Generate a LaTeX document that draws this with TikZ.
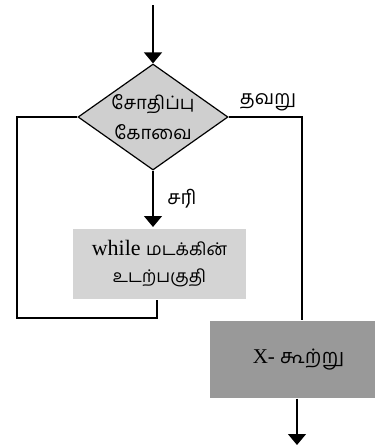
\documentclass[tikz,border=0pt]{standalone}
\usepackage{fontspec}
\setmainfont{Liberation Serif}
\newfontfamily\tamil[Script=Tamil]{Hind Madurai}
\usetikzlibrary{shapes.geometric,arrows.meta,calc}
\begin{document}
\begin{tikzpicture}[x=1pt,y=-1pt,
  line width=1.2pt,
  arr/.style={-{Triangle[width=18pt,length=11pt]}},
  decision/.style={diamond,draw,fill=black!19,aspect=1.415,inner sep=0pt,
    minimum width=150pt,minimum height=106pt},
  dtext/.style={align=center,inner sep=0pt,font=\tamil\fontsize{18.5}{30}\selectfont},
  bodybox/.style={rectangle,fill=black!17,inner sep=0pt,minimum width=173pt,
    minimum height=70pt,align=center,font=\fontsize{22}{27}\selectfont},
  xbox/.style={rectangle,fill=black!40,inner sep=0pt,minimum width=165pt,
    minimum height=77pt},
  lbl/.style={font=\tamil\fontsize{19.5}{20}\selectfont,inner sep=0pt}]
\useasboundingbox (0,0) rectangle (375,445);
\coordinate (start) at (153,5);
\node[decision,label={[dtext]center:சோதிப்பு\\கோவை}] (d) at (153,117) {};
\node[bodybox] (b) at (159.5,264) {while {\tamil\fontsize{17.5}{27}\selectfont மடக்கின்}\\{\tamil\fontsize{17.5}{27}\selectfont உடற்பகுதி}};
\node[xbox,label={[font=\fontsize{21}{22}\selectfont,inner sep=0pt,xshift=6pt]center:X- {\tamil\fontsize{20}{22}\selectfont கூற்று}}] (x) at (292.5,359.5) {};
\coordinate (lx) at (17,318);
\coordinate (rx) at (302,0);
\coordinate (bx) at (157,0);
\coordinate (ox) at (297,0);
\coordinate (end) at (297,445);
\draw[arr] (start) -- (d.north);
\draw[arr] (d.south) -- (153,227);
\draw (d.west) -| (lx) -| (b.south -| bx);
\draw (d.east) -| (x.north -| rx);
\draw[arr] (x.south -| ox) -- (end);
\node[lbl] (f) at (268,102) {தவறு};
\node[lbl] (t) at (182,199) {சரி};
\end{tikzpicture}
\end{document}
